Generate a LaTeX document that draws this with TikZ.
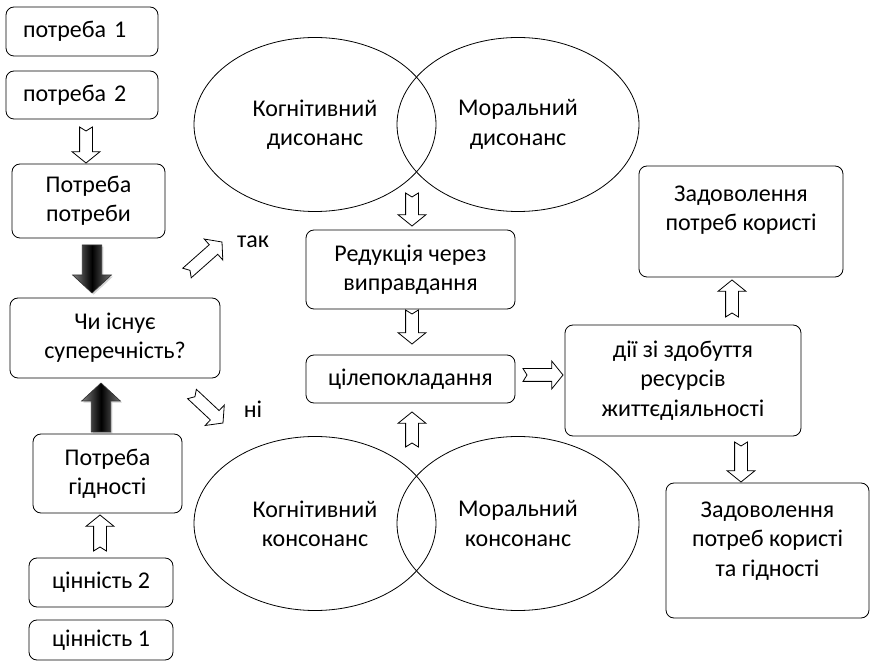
\documentclass[tikz,border=0pt]{standalone}
\usepackage{fontspec}
\setmainfont{Carlito}
\usetikzlibrary{calc,shapes.geometric,shadows}
\tikzset{
  box/.style={draw, rounded corners=6pt, line width=0.6pt, inner sep=0pt, align=center},
  sz/.style 2 args={minimum width=#1*0.75pt, minimum height=#2*0.75pt},
  oval/.style={draw, ellipse, line width=0.6pt, inner sep=0pt, minimum width=181.5pt, minimum height=130.5pt, align=center},
  txt/.style={inner sep=0pt, align=center},
  hollowarrow/.style={draw, line width=0.6pt, fill=white},
  darkarrow/.style={draw=black!80, line width=0.5pt, left color=black!50, right color=black!55, middle color=black,
     drop shadow={opacity=0.35, shadow xshift=1.2pt, shadow yshift=-1.2pt}},
}
% block arrow: from, to, shaft half width, head half width, head length, notch depth, style
\newcommand\blockpath[7]{%
  \coordinate (ba-h) at ($(#2)!#5!(#1)$);
  \coordinate (ba-n) at ($(#1)!#6!(#2)$);
  \path[#7] ($(#1)!#3!90:(#2)$) -- ($(ba-h)!#3!-90:(#1)$) -- ($(ba-h)!#4!-90:(#1)$) -- (#2)
     -- ($(ba-h)!#4!90:(#1)$) -- ($(ba-h)!#3!90:(#1)$) -- ($(#1)!#3!-90:(#2)$) -- (ba-n) -- cycle;
}
\newcommand\hollowarr[2]{\blockpath{#1}{#2}{4.8pt}{10.5pt}{8.5pt}{3pt}{hollowarrow}}
\newcommand\darkarr[2]{\blockpath{#1}{#2}{7.3pt}{14.5pt}{13.5pt}{0pt}{darkarrow}}
\begin{document}
\begin{tikzpicture}[x=0.75pt,y=-0.75pt, every node/.style={font=\fontsize{18}{22}\selectfont}]
\useasboundingbox (0,0) rectangle (872,670);
% left column
\node[box, sz={152}{49}, text width=88.5pt, align=left] (p1) at (82,31.5) {потреба 1};
\node[box, sz={152}{48}, text width=88.5pt, align=left] (p2) at (82,95) {потреба 2};
\node[box, sz={153}{74}] (pp) at (88.5,201) {Потреба\\потреби};
\node[box, sz={210}{80}] (q) at (115,338) {Чи існує\\суперечність?};
\node[box, sz={149}{79}] (pg) at (107.5,473.5) {Потреба\\гідності};
\node[box, sz={144}{49}] (c2) at (101,582.5) {цінність 2};
\node[box, sz={144}{40}] (c1) at (101,640) {цінність 1};
% ellipses
\node[oval] (e1) at (315,124.5) {Когнітивний\\дисонанс};
\node[oval] (e2) at (518,124.5) {Моральний\\дисонанс};
\node[oval] (e3) at (315,523.5) {Когнітивний\\консонанс};
\node[oval] (e4) at (518,523.5) {Моральний\\консонанс};
% centre column
\node[box, sz={209}{79}] (r) at (410.5,269.5) {Редукція через\\виправдання};
\node[box, sz={209}{48}] (g) at (410.5,379) {цілепокладання};
% right column
\node[box, sz={236}{111}] (d) at (683,380.5) {дії зі здобуття\\ресурсів\\життєдіяльності};
\node[box, sz={204}{111}] (z1) at (741,221.5) {};
\node[txt] (z1t) at (741,210) {Задоволення\\потреб користі};
\node[box, sz={203}{135}] (z2) at (767.5,550.5) {};
\node[txt] (z2t) at (767.5,541) {Задоволення\\потреб користі\\та гідності};
% labels
\node[txt] (yes) at (253,242) {так};
\node[txt] (no) at (253,409) {ні};
% arrow end points
\coordinate (a1s) at (86,127); \coordinate (a1e) at (86,163);
\coordinate (a2s) at (92,245); \coordinate (a2e) at (92,293);
\coordinate (a3s) at (101,432); \coordinate (a3e) at (101,383);
\coordinate (a4s) at (100,551); \coordinate (a4e) at (100,515);
\coordinate (a5s) at (187,273); \coordinate (a5e) at (222,242);
\coordinate (a6s) at (192,394); \coordinate (a6e) at (223,423);
\coordinate (a7s) at (412,193); \coordinate (a7e) at (412,226);
\coordinate (a8s) at (412,310); \coordinate (a8e) at (412,344);
\coordinate (a9s) at (412,447); \coordinate (a9e) at (412,412);
\coordinate (a10s) at (523,375); \coordinate (a10e) at (563,375);
\coordinate (a11s) at (732,317); \coordinate (a11e) at (732,280);
\coordinate (a12s) at (741,442); \coordinate (a12e) at (741,482);
% arrows
\hollowarr{a1s}{a1e}
\darkarr{a2s}{a2e}
\darkarr{a3s}{a3e}
\hollowarr{a4s}{a4e}
\hollowarr{a5s}{a5e}
\hollowarr{a6s}{a6e}
\hollowarr{a7s}{a7e}
\hollowarr{a8s}{a8e}
\hollowarr{a9s}{a9e}
\hollowarr{a10s}{a10e}
\hollowarr{a11s}{a11e}
\hollowarr{a12s}{a12e}
\end{tikzpicture}
\end{document}
